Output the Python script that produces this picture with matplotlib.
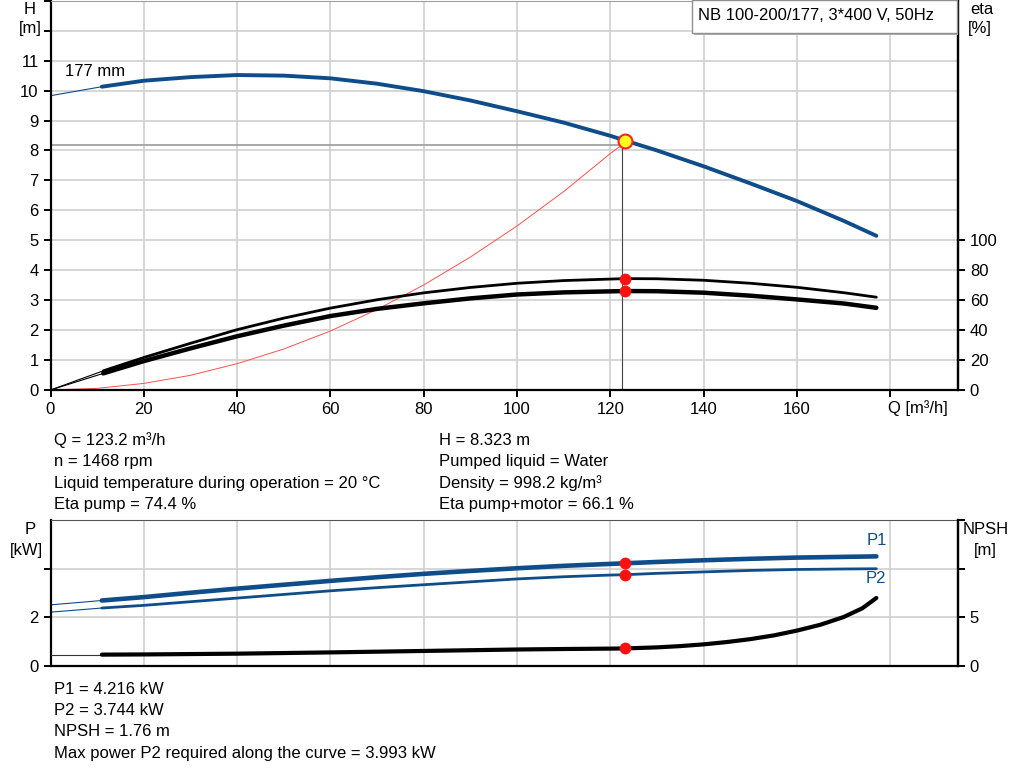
import matplotlib
matplotlib.use("Agg")
import matplotlib.pyplot as plt
from matplotlib.patches import Rectangle

plt.rcParams['font.family'] = ['Liberation Sans', 'DejaVu Sans']
plt.rcParams['font.size'] = 12

W, H = 1024, 781

# --- data ---
q_head = [0, 11, 20, 30, 40, 50, 60, 70, 80, 90, 100, 110, 120, 123.2, 130, 140, 150, 160, 170, 177]
head = [9.83, 10.13, 10.33, 10.45, 10.52, 10.50, 10.41, 10.23, 9.98, 9.67, 9.31, 8.93, 8.49, 8.33, 8.0, 7.47, 6.90, 6.31, 5.65, 5.15]

q_eta = [0, 11.3, 20, 30, 40, 50, 60, 70, 80, 90, 100, 110, 120, 123.2, 130, 140, 150, 160, 170, 177]
eta_pump = [0, 12.8, 21.7, 31.2, 40.3, 48.0, 54.7, 60.3, 64.9, 68.5, 71.3, 73.1, 74.1, 74.4, 74.3, 73.3, 71.3, 68.6, 65.0, 62.0]
eta_total = [0, 11.1, 19.3, 27.8, 35.9, 43.0, 49.4, 54.2, 57.9, 61.2, 63.8, 65.2, 65.9, 66.1, 66.0, 65.0, 63.0, 60.5, 57.8, 54.9]

q_sys = [0, 10, 20, 30, 40, 50, 60, 70, 80, 90, 100, 110, 120, 122.4]
h_sys = [0, 0.055, 0.22, 0.49, 0.88, 1.37, 1.97, 2.69, 3.51, 4.44, 5.48, 6.63, 7.90, 8.18]

q_pow = [0, 11, 20, 30, 40, 50, 60, 70, 80, 90, 100, 110, 120, 123.2, 130, 140, 150, 160, 170, 177]
p1 = [2.5, 2.68, 2.82, 3.0, 3.17, 3.33, 3.49, 3.64, 3.78, 3.9, 4.01, 4.11, 4.19, 4.216, 4.27, 4.34, 4.40, 4.45, 4.48, 4.50]
p2 = [2.2, 2.37, 2.48, 2.63, 2.78, 2.93, 3.08, 3.21, 3.33, 3.45, 3.57, 3.66, 3.73, 3.744, 3.80, 3.86, 3.92, 3.96, 3.98, 3.99]

q_npsh = [0, 11, 20, 40, 60, 80, 100, 110, 120, 123.2, 130, 135, 140, 145, 150, 155, 160, 165, 170, 174, 177]
npsh = [1.12, 1.12, 1.14, 1.22, 1.35, 1.5, 1.65, 1.70, 1.74, 1.76, 1.87, 2.0, 2.18, 2.42, 2.72, 3.1, 3.6, 4.2, 5.0, 5.9, 6.96]

q_op, h_op = 123.2, 8.323
q_line, h_line = 122.4, 8.18
eta_op = [74.4, 66.1]
p_op = [4.216, 3.744]
npsh_op = 1.76
q_start = 11

info_left = ["Q = 123.2 m³/h", "n = 1468 rpm",
             "Liquid temperature during operation = 20 °C", "Eta pump = 74.4 %"]
info_right = ["H = 8.323 m", "Pumped liquid = Water",
              "Density = 998.2 kg/m³", "Eta pump+motor = 66.1 %"]
info_bottom = ["P1 = 4.216 kW", "P2 = 3.744 kW", "NPSH = 1.76 m",
               "Max power P2 required along the curve = 3.993 kW"]
title = "NB 100-200/177, 3*400 V, 50Hz"

blue = '#0e4d8a'
grid_c = '#d0d0d0'


def fx(x):
    return x / W


def fy(y):
    return 1 - y / H


def split(qs, vals, qcut):
    thin = [(q, v) for q, v in zip(qs, vals) if q <= qcut]
    thick = [(q, v) for q, v in zip(qs, vals) if q >= qcut]
    return list(zip(*thin)), list(zip(*thick))


def style_axes(ax):
    ax.spines['left'].set_linewidth(1.6)
    ax.spines['right'].set_linewidth(1.6)
    ax.spines['bottom'].set_linewidth(1.6)
    ax.tick_params(direction='out', length=5, width=1.4, colors='black', labelsize=12)
    ax.grid(True, color=grid_c, lw=1.2)
    ax.set_axisbelow(True)


def right_axis(ax):
    ax.tick_params(direction='out', length=5, width=1.4, labelsize=12)
    for s in ax.spines.values():
        s.set_visible(False)
    ax.spines['right'].set_visible(True)
    ax.spines['right'].set_linewidth(1.6)


fig = plt.figure(figsize=(W / 100, H / 100), dpi=100)

# ---------------- top chart: H and eta ----------------
ax = fig.add_axes([fx(50.5), fy(390), fx(958) - fx(50.5), fy(0) - fy(390) - 0.001])
ax.set_xlim(0, 194.5)
ax.set_ylim(0, 13)
style_axes(ax)
ax.spines['top'].set_color('#a0a0a0')
ax.set_xticks(range(0, 181, 20))
ax.set_xticklabels([str(v) for v in range(0, 161, 20)] + [''])
ax.set_yticks(range(0, 14))
ax.set_yticklabels([str(v) for v in range(0, 12)] + ['', ''])
ax.tick_params(axis='y', right=False)

ax2 = ax.twinx()
ax2.set_ylim(0, 260)
ax2.set_yticks(range(0, 101, 20))
right_axis(ax2)

# operating lines
ax.plot([0, q_line], [h_line, h_line], color='#9a9a9a', lw=1.2)
ax.plot([q_line, q_line], [0, h_line], color='#444444', lw=0.8)

# system curve
ax.plot(q_sys, h_sys, color='#ff5050', lw=0.7)

# head curve
thin, thick = split(q_head, head, q_start)
ax.plot(thin[0], thin[1], color=blue, lw=0.8)
ax.plot(thick[0], thick[1], color=blue, lw=2.8, solid_capstyle='round')

# efficiency curves
for vals, lw in [(eta_pump, 2.0), (eta_total, 3.2)]:
    thin, thick = split(q_eta, vals, q_eta[1])
    ax2.plot(thin[0], thin[1], color='black', lw=0.8)
    ax2.plot(thick[0], thick[1], color='black', lw=lw, solid_capstyle='round')

ax2.plot([q_op, q_op], eta_op, 'o', color='#ff1010', ms=8.5, mec='none')
ax2.plot([q_op], [h_op], 'o', color='#ffff20', ms=10, mec='#ff2020', mew=1.5,
         transform=ax.transData, zorder=10)

ax.text(9.5, 10.63, "177 mm", fontsize=12, ha='center', va='center')

fig.text(fx(30), fy(10), "H", ha='center', va='center')
fig.text(fx(30), fy(29), "[m]", ha='center', va='center')
fig.text(fx(982), fy(10), "eta", ha='center', va='center')
fig.text(fx(980), fy(29), "[%]", ha='center', va='center')
fig.text(fx(888), fy(408), "Q [m³/h]", ha='left', va='center')

# title box
fig.patches.append(Rectangle((fx(694), fy(35)), fx(958) - fx(694), fy(0) - fy(35),
                             transform=fig.transFigure, facecolor='#b0b0b0',
                             edgecolor='none', zorder=5))
fig.patches.append(Rectangle((fx(692), fy(33)), fx(957) - fx(692), fy(0) - fy(33),
                             transform=fig.transFigure, facecolor='white',
                             edgecolor='#909090', lw=1, zorder=6))
fig.text(fx(698), fy(15), title, ha='left', va='center', zorder=7)

# info text
for i, (l, r) in enumerate(zip(info_left, info_right)):
    y = 440.5 + i * 21.4
    fig.text(fx(54), fy(y), l, ha='left', va='center')
    fig.text(fx(439), fy(y), r, ha='left', va='center')

# ---------------- bottom chart: P and NPSH ----------------
bx = fig.add_axes([fx(50.5), fy(665.5), fx(958) - fx(50.5), fy(520) - fy(665.5)])
bx.set_xlim(0, 194.5)
bx.set_ylim(0, 6)
style_axes(bx)
bx.spines['top'].set_color('#555555')
bx.set_xticks(range(0, 181, 20))
bx.tick_params(axis='x', length=0, labelbottom=False)
bx.set_yticks([0, 2, 4])
bx.set_yticklabels(['0', '2', ''])

bx2 = bx.twinx()
bx2.set_ylim(0, 15)
bx2.set_yticks([0, 5, 10, 15])
bx2.set_yticklabels(['0', '5', '', ''])
right_axis(bx2)

for vals, lw in [(p1, 3.3), (p2, 2.0)]:
    thin, thick = split(q_pow, vals, q_start)
    bx.plot(thin[0], thin[1], color=blue, lw=0.8)
    bx.plot(thick[0], thick[1], color=blue, lw=lw, solid_capstyle='round')

thin, thick = split(q_npsh, npsh, q_start)
bx2.plot(thin[0], thin[1], color='#333333', lw=0.8)
bx2.plot(thick[0], thick[1], color='black', lw=3.0, solid_capstyle='round')

bx.plot([q_op, q_op], p_op, 'o', color='#ff1010', ms=8.5, mec='none', zorder=10)
bx2.plot([q_op], [npsh_op], 'o', color='#ff1010', ms=8.5, mec='none', zorder=10)

bx.text(177, 5.16, "P1", color=blue, ha='center', va='center')
bx.text(177, 3.58, "P2", color=blue, ha='center', va='center')

fig.text(fx(30), fy(530), "P", ha='center', va='center')
fig.text(fx(26), fy(551), "[kW]", ha='center', va='center')
fig.text(fx(986), fy(530), "NPSH", ha='center', va='center')
fig.text(fx(985), fy(551), "[m]", ha='center', va='center')

for i, t in enumerate(info_bottom):
    fig.text(fx(54), fy(689 + i * 21.4), t, ha='left', va='center')

fig.savefig("out.png", dpi=100)
